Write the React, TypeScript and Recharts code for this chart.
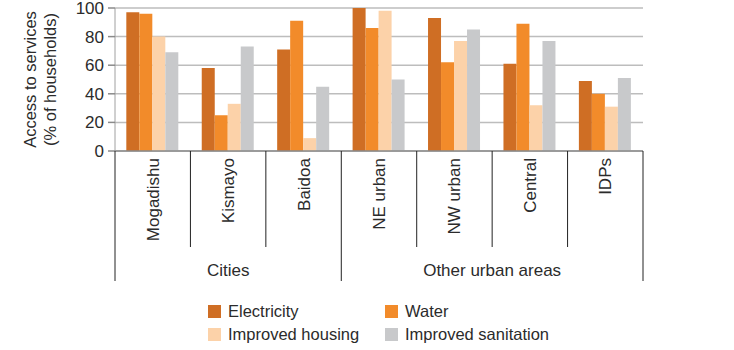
import { BarChart, Bar, XAxis, YAxis, CartesianGrid } from "recharts";

const categories = ["Mogadishu", "Kismayo", "Baidoa", "NE urban", "NW urban", "Central", "IDPs"];
const electricity = [97, 58, 71, 100, 93, 61, 49];
const water = [96, 25, 91, 86, 62, 89, 40];
const housing = [80, 33, 9, 98, 77, 32, 31];
const sanitation = [69, 73, 45, 50, 85, 77, 51];
const yTicks = [0, 20, 40, 60, 80, 100];

const series = [
  { key: "electricity", name: "Electricity", color: "#CF6E24" },
  { key: "water", name: "Water", color: "#F28B2A" },
  { key: "housing", name: "Improved housing", color: "#FCD2A9" },
  { key: "sanitation", name: "Improved sanitation", color: "#C8C9CB" },
];

const data = categories.map((name, i) => ({
  name,
  electricity: electricity[i],
  water: water[i],
  housing: housing[i],
  sanitation: sanitation[i],
}));

const FONT = "'Liberation Sans', Arial, Helvetica, sans-serif";
const TEXT = "#2b2b2b";

const CategoryTick = (props: any) => {
  const { x, y, payload, index } = props;
  const half = payload?.offset ?? 37.7;
  const last = categories.length - 1;
  const groupStart = index === 0 || index === 3;
  return (
    <g>
      <line
        x1={x - half}
        x2={x - half}
        y1={y}
        y2={y + (groupStart ? 130 : 96)}
        stroke="#222"
        strokeWidth={1}
      />
      {index === last && (
        <line x1={x + half} x2={x + half} y1={y} y2={y + 130} stroke="#222" strokeWidth={1} />
      )}
      <text
        x={x}
        y={y + 7}
        transform={`rotate(-90 ${x} ${y + 7})`}
        textAnchor="end"
        dy="0.35em"
        fontSize={17}
        fontFamily={FONT}
        fill={TEXT}
      >
        {payload.value}
      </text>
      {index === 1 && (
        <text x={x} y={y + 125} textAnchor="middle" fontSize={17} fontFamily={FONT} fill={TEXT}>
          Cities
        </text>
      )}
      {index === 4 && (
        <text x={x + half} y={y + 125} textAnchor="middle" fontSize={17} fontFamily={FONT} fill={TEXT}>
          Other urban areas
        </text>
      )}
    </g>
  );
};

const YLabel = (props: any) => {
  const vb = props.viewBox || { x: 0, y: 8, width: 115, height: 143 };
  const cy = vb.y + vb.height / 2;
  return (
    <g fontSize={16.5} fontFamily={FONT} fill={TEXT} textAnchor="middle">
      <text x={30} y={cy} transform={`rotate(-90 30 ${cy})`} dy="0.35em">
        Access to services
      </text>
      <text x={50} y={cy} transform={`rotate(-90 50 ${cy})`} dy="0.35em">
        (% of households)
      </text>
    </g>
  );
};

export default function App() {
  return (
    <div
      style={{
        position: "absolute",
        left: 0,
        top: 0,
        width: 734,
        height: 350,
        background: "#fff",
        fontFamily: FONT,
      }}
    >
      <BarChart
        width={734}
        height={350}
        data={data}
        margin={{ top: 8, right: 91, bottom: 0, left: 0 }}
        barCategoryGap="15%"
        barGap={0}
      >
        <CartesianGrid vertical={false} stroke="#BDBDBD" strokeWidth={1.5} />
        <XAxis
          dataKey="name"
          height={199}
          interval={0}
          tickSize={0}
          tickMargin={0}
          tickLine={false}
          axisLine={{ stroke: "#8a8a8a", strokeWidth: 1.5 }}
          tick={<CategoryTick />}
        />
        <YAxis
          width={115}
          domain={[0, 100]}
          ticks={yTicks}
          interval={0}
          axisLine={{ stroke: "#a0a0a0", strokeWidth: 1 }}
          tickLine={{ stroke: "#8a8a8a", strokeWidth: 1.5 }}
          tickSize={7}
          tickMargin={4}
          tick={{ fontSize: 17, fontFamily: FONT, fill: TEXT }}
          label={{ content: <YLabel /> }}
        />
        {series.map((s) => (
          <Bar key={s.key} dataKey={s.key} name={s.name} fill={s.color} isAnimationActive={false} />
        ))}
      </BarChart>
      <div
        style={{
          position: "absolute",
          left: 208,
          top: 302,
          display: "grid",
          gridTemplateColumns: "177px 180px",
          rowGap: 5,
          fontSize: 16.5,
          color: TEXT,
          lineHeight: "18px",
        }}
      >
        {series.map((s) => (
          <div key={s.key} style={{ display: "flex", alignItems: "center" }}>
            <span
              style={{
                display: "inline-block",
                width: 13,
                height: 13,
                background: s.color,
                marginRight: 7,
              }}
            />
            {s.name}
          </div>
        ))}
      </div>
    </div>
  );
}
